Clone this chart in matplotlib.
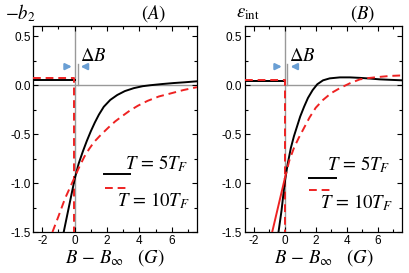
import matplotlib
matplotlib.use("Agg")
import matplotlib.pyplot as plt
from matplotlib.ticker import MultipleLocator, FormatStrFormatter

plt.rcParams['axes.unicode_minus'] = False
plt.rcParams['mathtext.fontset'] = 'stix'
plt.rcParams['font.family'] = ['Liberation Sans', 'DejaVu Sans']

# panel A: -b2
a_flat_black = 0.05
a_flat_red = 0.07
a_black_x = [-0.7, -0.35, 0.0, 0.25, 0.5, 0.75, 1.0, 1.25, 1.5, 1.8, 2.2, 2.63, 3.1, 3.65, 4.2, 4.68, 5.4, 6.1, 6.8, 7.55]
a_black_y = [-1.52, -1.24, -0.96, -0.8, -0.68, -0.57, -0.47, -0.38, -0.30, -0.22, -0.15, -0.10, -0.06, -0.03,
             -0.01, 0.0, 0.012, 0.022, 0.03, 0.04]
a_red_x = [-1.37, -1.0, -0.6, -0.3, 0.0, 0.3, 0.6, 0.9, 1.2, 1.6, 2.1, 2.5, 2.9, 3.4, 3.9, 4.5, 5.2, 5.9, 6.7, 7.55]
a_red_y = [-1.5, -1.34, -1.16, -1.05, -0.94, -0.83, -0.73, -0.65, -0.58, -0.51, -0.43, -0.37, -0.32, -0.26,
           -0.21, -0.16, -0.115, -0.085, -0.05, -0.02]

# panel B: eps_int
b_flat_black = 0.04
b_flat_red = 0.05
b_black_x = [-0.43, -0.2, 0.0, 0.2, 0.4, 0.6, 0.8, 1.0, 1.25, 1.5, 1.8, 2.1, 2.47, 2.9, 3.55, 4.2, 4.84, 5.5,
             6.1, 6.8, 7.55]
b_black_y = [-1.54, -1.28, -1.0, -0.8, -0.64, -0.52, -0.42, -0.32, -0.22, -0.13, -0.05, 0.01, 0.05, 0.07, 0.08,
             0.08, 0.075, 0.068, 0.06, 0.055, 0.05]
b_red_solid_x = [-0.86, 0.0]
b_red_solid_y = [-1.54, -0.96]
b_red_x = [0.0, 0.3, 0.6, 0.9, 1.2, 1.6, 2.0, 2.47, 3.0, 3.55, 4.2, 4.84, 5.5, 6.1, 6.8, 7.55]
b_red_y = [-0.96, -0.77, -0.64, -0.54, -0.45, -0.33, -0.23, -0.15, -0.08, -0.03, 0.02, 0.06, 0.075, 0.085,
           0.095, 0.10]

xmin, xmax = -2.55, 7.55
ymin, ymax = -1.5, 0.6
arrow_col = '#6a9fd4'
red = '#ee2222'
dash = (0, (4, 2.5))

fig = plt.figure(figsize=(4.09, 2.73), dpi=100)
axA = fig.add_axes([0.0815, 0.150, 0.400, 0.753])
axB = fig.add_axes([0.599, 0.150, 0.384, 0.753])


def setup(ax):
    ax.set_xlim(xmin, xmax)
    ax.set_ylim(ymin, ymax)
    ax.xaxis.set_major_locator(MultipleLocator(2))
    ax.xaxis.set_minor_locator(MultipleLocator(1))
    ax.yaxis.set_major_locator(MultipleLocator(0.5))
    ax.yaxis.set_minor_locator(MultipleLocator(0.25))
    ax.yaxis.set_major_formatter(FormatStrFormatter('%.1f'))
    ax.tick_params(which='both', direction='in', top=True, right=True, labelsize=8.5, pad=2, width=0.8)
    ax.tick_params(which='major', length=3.5)
    ax.tick_params(which='minor', length=2)
    for s in ax.spines.values():
        s.set_linewidth(0.9)
    ax.axhline(0, color='#999999', lw=1.0, zorder=1)
    ax.axvline(0, color='#999999', lw=1.0, zorder=1)
    ax.set_xlabel(r'$B\,-\,B_{\infty}\ \ \ (G)$', fontsize=13.5, labelpad=0)


def delta_b(ax, xt):
    ax.plot([0.18, 0.18], [0.0, 0.22], color='#999999', lw=1.0, zorder=1)
    ax.annotate('', xy=(0.0, 0.19), xytext=(-0.75, 0.19),
                arrowprops=dict(arrowstyle='-|>', color=arrow_col, lw=1.6, mutation_scale=9))
    ax.annotate('', xy=(0.2, 0.19), xytext=(0.95, 0.19),
                arrowprops=dict(arrowstyle='-|>', color=arrow_col, lw=1.6, mutation_scale=9))
    ax.text(xt, 0.29, r'$\Delta B$', fontsize=13.5, va='center', ha='left')


# panel A
setup(axA)
axA.plot([xmin, 0], [a_flat_black, a_flat_black], color='black', lw=1.4, zorder=3)
axA.plot([xmin, -0.05, -0.05], [a_flat_red, a_flat_red, ymin], color=red, lw=1.4, ls=dash, zorder=3)
axA.plot(a_black_x, a_black_y, color='black', lw=1.4, zorder=3)
axA.plot(a_red_x, a_red_y, color=red, lw=1.4, ls=dash, zorder=3)
delta_b(axA, 0.35)
axA.plot([1.8, 3.4], [-0.91, -0.91], color='black', lw=1.4)
axA.plot([1.85, 3.4], [-1.05, -1.05], color=red, lw=1.4, ls=dash)
axA.text(3.1, -0.8, r'$T\,=\,5T_F$', fontsize=13.5, va='center')
axA.text(2.6, -1.18, r'$T\,=\,10T_F$', fontsize=13.5, va='center')
fig.text(0.012, 0.952, r'$-b_2$', fontsize=13.5, va='center')
fig.text(0.345, 0.952, r'$(A)$', fontsize=13.5, va='center')

# panel B
setup(axB)
axB.plot([xmin, 0], [b_flat_black, b_flat_black], color='black', lw=1.4, zorder=3)
axB.plot([xmin, 0.0, 0.0], [b_flat_red, b_flat_red, ymin], color=red, lw=1.4, ls=dash, zorder=3)
axB.plot(b_black_x, b_black_y, color='black', lw=1.4, zorder=3)
axB.plot(b_red_solid_x, b_red_solid_y, color=red, lw=1.4, zorder=3)
axB.plot(b_red_x, b_red_y, color=red, lw=1.4, ls=dash, zorder=3)
delta_b(axB, 0.3)
axB.plot([1.55, 3.3], [-0.95, -0.95], color='black', lw=1.4)
axB.plot([1.55, 3.2], [-1.07, -1.07], color=red, lw=1.4, ls=dash)
axB.text(2.75, -0.81, r'$T\,=\,5T_F$', fontsize=13.5, va='center')
axB.text(2.3, -1.2, r'$T\,=\,10T_F$', fontsize=13.5, va='center')
fig.text(0.578, 0.952, r'$\varepsilon_{\rm int}$', fontsize=13.5, va='center')
fig.text(0.855, 0.952, r'$(B)$', fontsize=13.5, va='center')

fig.savefig('out.png', dpi=100)
